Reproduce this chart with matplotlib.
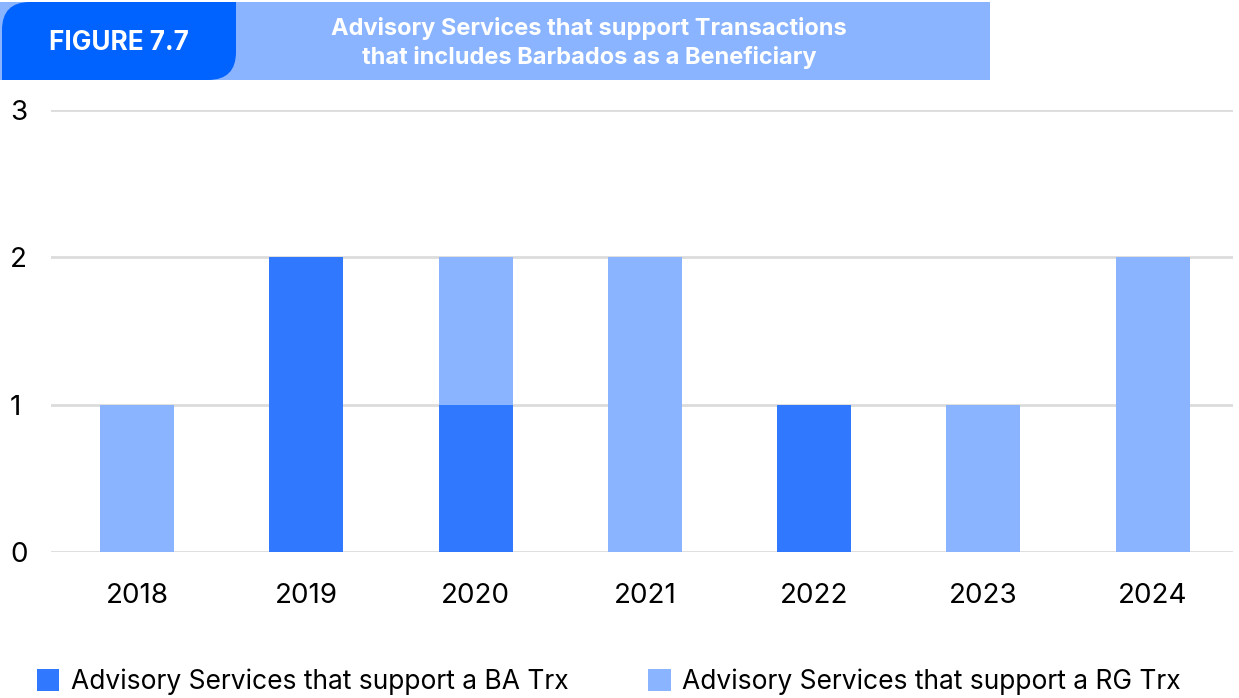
import numpy as np
import matplotlib
matplotlib.use("Agg")
import matplotlib.pyplot as plt
from matplotlib.path import Path
from matplotlib.patches import PathPatch, Rectangle

plt.rcParams["font.family"] = ["Inter", "DejaVu Sans"]

years = ["2018", "2019", "2020", "2021", "2022", "2023", "2024"]
ba_trx = [0, 2, 1, 0, 1, 0, 0]
rg_trx = [1, 0, 1, 2, 0, 1, 2]
y_ticks = [0, 1, 2, 3]

DARK = "#3079FF"
LIGHT = "#8AB4FF"
HEADER_DARK = "#0062FF"
GRID = "#DCDCDC"

W, H = 1239, 698
fig = plt.figure(figsize=(W / 100, H / 100), dpi=100)

# header drawn in pixel coordinates on a background axes
bg = fig.add_axes([0, 0, 1, 1])
bg.set_xlim(0, W)
bg.set_ylim(H, 0)
bg.axis("off")
bg.add_patch(Rectangle((0, 2), 990, 78, color=LIGHT, lw=0))

x0, x1, y0, y1, r = 2, 236, 2, 80, 28
verts = [(x0, y0 + r), (x0, y0), (x0 + r, y0),
         (x1, y0), (x1, y1 - r), (x1, y1), (x1 - r, y1),
         (x0, y1), (x0, y0 + r)]
codes = [Path.MOVETO, Path.CURVE3, Path.CURVE3,
         Path.LINETO, Path.LINETO, Path.CURVE3, Path.CURVE3,
         Path.LINETO, Path.CLOSEPOLY]
bg.add_patch(PathPatch(Path(verts, codes), color=HEADER_DARK, lw=0))
bg.text(119, 43, "FIGURE 7.7", color="white", fontsize=18.8, fontweight="bold",
        ha="center", va="center")
bg.text(589, 43, "Advisory Services that support Transactions\nthat includes Barbados as a Beneficiary",
        color="white", fontsize=17, fontweight="bold", ha="center", va="center",
        linespacing=1.3)

ax = fig.add_axes([51 / W, 146 / H, 1182 / W, 442 / H])
x = np.arange(len(years))
b1 = ax.bar(x, ba_trx, width=0.437, color=DARK, zorder=3,
            label="Advisory Services that support a BA Trx")
b2 = ax.bar(x, rg_trx, width=0.437, bottom=ba_trx, color=LIGHT, zorder=3,
            label="Advisory Services that support a RG Trx")

ax.set_xlim(-0.508, 6.474)
ax.set_ylim(0, 3)
ax.set_xticks(x)
ax.set_xticklabels(years, fontsize=20)
ax.set_yticks(y_ticks)
ax.set_yticklabels([str(v) for v in y_ticks], fontsize=20)
ax.tick_params(length=0)
ax.tick_params(axis="x", pad=22)
ax.tick_params(axis="y", pad=29.5)
for lbl in ax.get_yticklabels():
    lbl.set_horizontalalignment("left")
ax.grid(axis="y", color=GRID, lw=2, zorder=0)
for s in ax.spines.values():
    s.set_visible(False)
ax.patch.set_alpha(0)

fig.legend(handles=[b1, b2], loc="center left", bbox_to_anchor=(37 / W, 16 / H),
           ncol=2, frameon=False, fontsize=19, handlelength=0.85,
           handleheight=0.9, handletextpad=0.45, columnspacing=3.0,
           borderpad=0, borderaxespad=0)

fig.savefig("out.png", dpi=100)
